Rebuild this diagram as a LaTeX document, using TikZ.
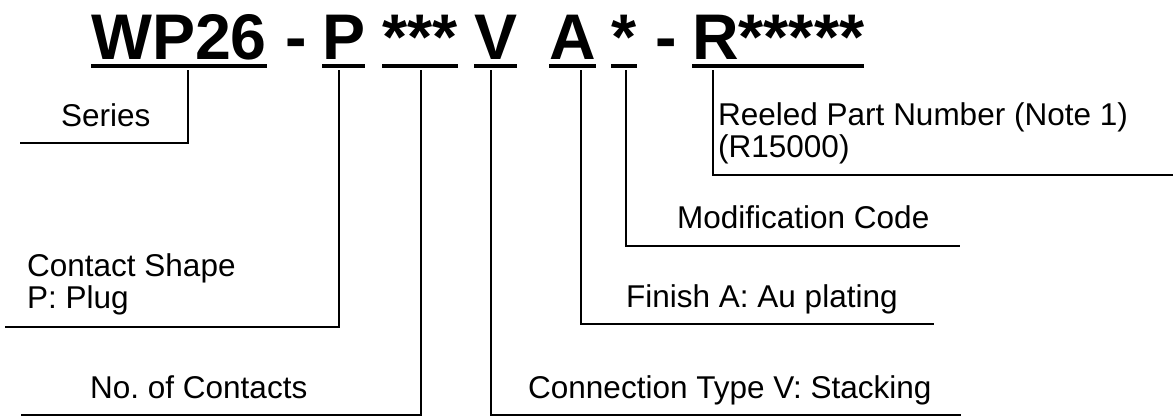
\documentclass[tikz,border=0pt]{standalone}
\usepackage{fontspec}
\setmainfont{Liberation Sans}
\frenchspacing
\begin{document}
\begin{tikzpicture}[x=1pt,y=-1pt,
  head/.style={inner sep=0pt, anchor=base west, font=\fontsize{64.5}{70}\selectfont\bfseries},
  lbl/.style={inner sep=0pt, anchor=base west, font=\fontsize{31.5}{32}\selectfont\frenchspacing, align=left},
  uline/.style={line width=3.5pt},
  lead/.style={line width=2.4pt}]
\useasboundingbox (0,0) rectangle (1173,416);
% header code
\node[head] (hWP) at (91,59) {WP26};
\node[head, anchor=base] (hD1) at (296,59) {-};
\node[head] (hP) at (322,59) {P};
\node[head] (hN) at (382,59) {***};
\node[head] (hV) at (474,59) {V};
\node[head] (hA) at (549,59) {A};
\node[head] (hM) at (611,59) {*};
\node[head, anchor=base] (hD2) at (666,59) {-};
\node[head] (hR) at (692,59) {R*****};
% underlines
\foreach \n in {hWP,hP,hN,hV,hA,hM,hR}
  \draw[uline] ([yshift=-7pt]\n.base west) -- ([yshift=-7pt]\n.base east);
% labels (base anchor of a two-line node is its last line)
\node[lbl] (lS) at (61,126) {Series};
\node[lbl] (lC) at (27,308) {Contact Shape\\P: Plug};
\node[lbl] (lN) at (90,398) {No. of Contacts};
\node[lbl] (lR) at (718,157) {Reeled Part Number (Note 1)\\(R15000)};
\node[lbl] (lM) at (677,228) {Modification Code};
\node[lbl] (lF) at (626,307) {Finish A: Au plating};
\node[lbl] (lV) at (528,398) {Connection Type V: Stacking};
% line ends
\coordinate (eS) at (20,143);
\coordinate (eC) at (5,327);
\coordinate (eN) at (21,415);
\coordinate (eV) at (961,415);
\coordinate (eF) at (934,324);
\coordinate (eM) at (960,246);
\coordinate (eR) at (1173,175);
% leaders
\draw[lead] ([xshift=97pt,yshift=-11pt]hWP.base west) |- (eS);
\draw[lead] ([xshift=17pt,yshift=-11pt]hP.base west) |- (eC);
\draw[lead] ([xshift=39pt,yshift=-11pt]hN.base west) |- (eN);
\draw[lead] ([xshift=17pt,yshift=-11pt]hV.base west) |- (eV);
\draw[lead] ([xshift=32pt,yshift=-11pt]hA.base west) |- (eF);
\draw[lead] ([xshift=15pt,yshift=-11pt]hM.base west) |- (eM);
\draw[lead] ([xshift=21pt,yshift=-11pt]hR.base west) |- (eR);
\end{tikzpicture}
\end{document}
